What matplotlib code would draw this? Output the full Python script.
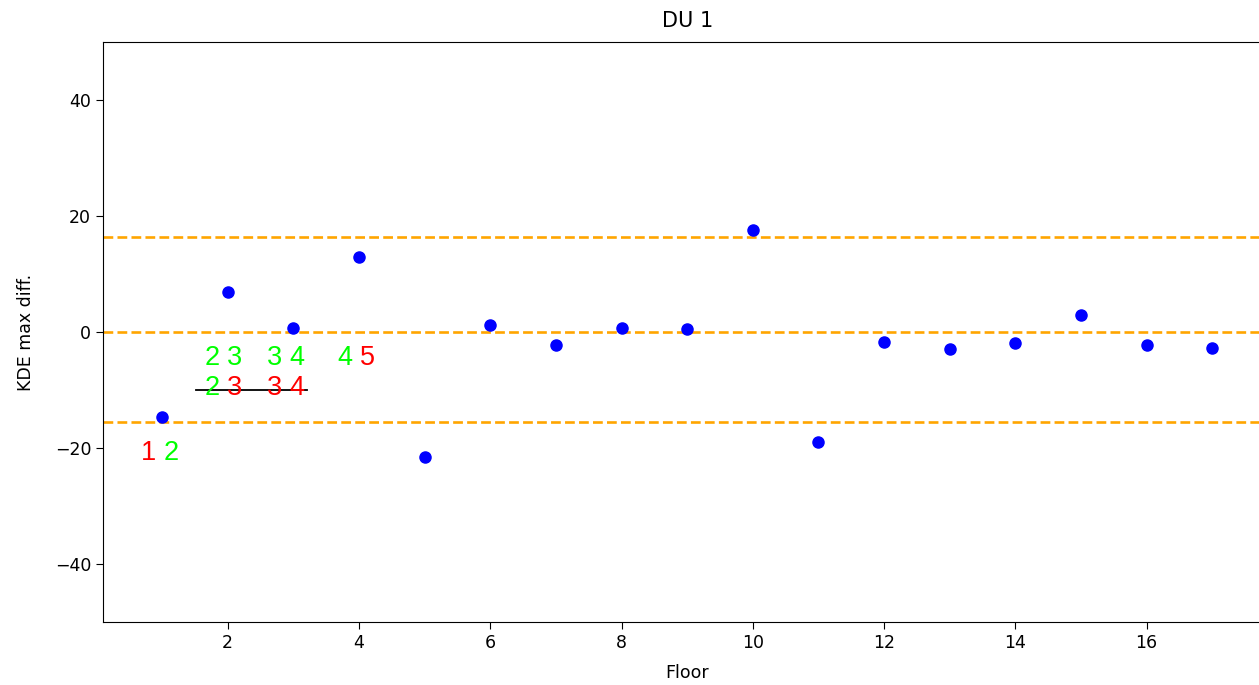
import numpy as np
import matplotlib.pyplot as plt

floors = np.arange(1, 18)
kde_diff = [-14.6, 6.9, 0.7, 12.9, -21.5, 1.2, -2.2, 0.7, 0.5, 17.6,
            -19.0, -1.8, -2.9, -1.9, 3.0, -2.2, -2.7]
hlines = [16.3, 0.0, -15.6]

# digit labels: (x, y, text, colour)
labels_x = [0.79, 1.14, 1.77, 2.10, 2.71, 3.05, 3.79, 4.13, 1.77, 2.10, 2.71, 3.05]
labels_y = [-20.9, -20.9, -4.5, -4.5, -4.5, -4.5, -4.5, -4.5, -9.7, -9.7, -9.7, -9.7]
labels_t = ['1', '2', '2', '3', '3', '4', '4', '5', '2', '3', '3', '4']
labels_c = ['red', 'lime', 'lime', 'lime', 'lime', 'lime', 'lime', 'red',
            'lime', 'red', 'red', 'red']
strike_x = [1.52, 3.21]
strike_y = [-10.0, -10.0]

fig = plt.figure(figsize=(12.59, 6.85), dpi=100)
ax = fig.add_axes([0.0818, 0.092, 0.928, 0.8467])

for y in hlines:
    ax.axhline(y, color='orange', linestyle='--', linewidth=1.9)
ax.plot(floors, kde_diff, 'o', color='blue', markersize=8)

for x, y, t, c in zip(labels_x, labels_y, labels_t, labels_c):
    ax.text(x, y, t, color=c, fontsize=19.5, family='Liberation Sans',
            ha='center', va='center')
ax.plot(strike_x, strike_y, color='black', linewidth=1.3)

ax.set_xlim(0.1, 17.9)
ax.set_ylim(-50, 50)
ax.set_xticks([2, 4, 6, 8, 10, 12, 14, 16])
ax.set_yticks([-40, -20, 0, 20, 40])
ax.tick_params(labelsize=12.5, length=5)
ax.set_xlabel('Floor', fontsize=12.5, labelpad=9)
ax.set_ylabel('KDE max diff.', fontsize=12.5, labelpad=14)
ax.set_title('DU 1', fontsize=15, pad=11)

fig.savefig('out.png', dpi=100)
